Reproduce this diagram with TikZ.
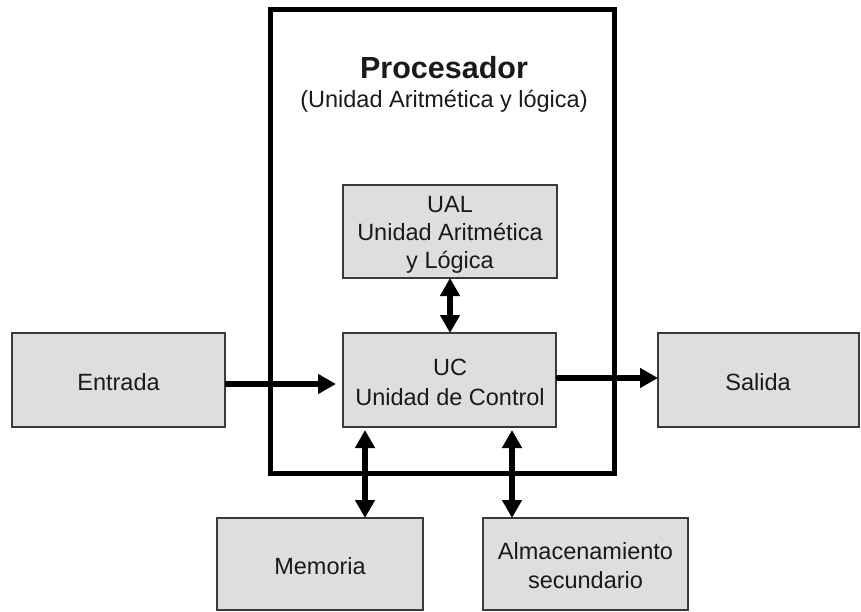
\documentclass[tikz,border=0pt]{standalone}
\usepackage{fontspec}
\setmainfont{Liberation Sans}
\usetikzlibrary{arrows.meta}
\definecolor{boxfill}{HTML}{DEDEDE}
\definecolor{boxline}{HTML}{3A3A3A}
\definecolor{txt}{HTML}{1A1A1A}
\begin{document}
\begin{tikzpicture}[x=1pt,y=-1pt,
  unit/.style={draw=boxline,line width=1.6pt,fill=boxfill},
  lbl/.style={text=txt,font=\fontsize{23.5}{29}\selectfont,align=center,inner sep=0pt},
  conn/.style={line width=6pt,-{Triangle[length=18pt,width=19pt]}},
  bconn/.style={line width=6pt,{Triangle[length=18pt,width=19pt]}-{Triangle[length=18pt,width=19pt]}}]
\useasboundingbox (0,0) rectangle (861,612);
% processor frame
\draw[line width=5pt] (270,10) rectangle (614,473);
\node[lbl,font=\bfseries\fontsize{30.5}{34}\selectfont] (title) at (444,68) {Procesador};
\node[lbl] (subtitle) at (444,101) {(Unidad Aritmética y lógica)};
% boxes
\draw[unit] (343,185) rectangle (557,278);
\node[lbl,font=\fontsize{23.5}{28}\selectfont] (ualtxt) at (450,235) {UAL\\Unidad Aritmética\\y Lógica};
\draw[unit] (343,333) rectangle (556,427);
\node[lbl,font=\fontsize{23.5}{30}\selectfont] (uctxt) at (450,382) {UC\\Unidad de Control};
\draw[unit] (12,333) rectangle (225,427);
\node[lbl] (entrada) at (118.5,382) {Entrada};
\draw[unit] (658,333) rectangle (859,427);
\node[lbl] (salida) at (758,382) {Salida};
\draw[unit] (217,518) rectangle (423,610);
\node[lbl] (memoria) at (320,566) {Memoria};
\draw[unit] (483,518) rectangle (688,610);
\node[lbl] (almac) at (585.5,566) {Almacenamiento\\secundario};
% anchor coordinates for connectors
\coordinate (entR) at (225,384);
\coordinate (ucL) at (336,384);
\coordinate (ucR) at (556,378);
\coordinate (salL) at (658,378);
\coordinate (ualB) at (450,278);
\coordinate (ucT) at (450,333);
\coordinate (ucBm) at (365,430);
\coordinate (memT) at (365,518);
\coordinate (ucBa) at (512,430);
\coordinate (almT) at (512,518);
\draw[conn] (entR) -- (ucL);
\draw[conn] (ucR) -- (salL);
\draw[bconn] (ualB) -- (ucT);
\draw[bconn] (ucBm) -- (memT);
\draw[bconn] (ucBa) -- (almT);
\end{tikzpicture}
\end{document}
